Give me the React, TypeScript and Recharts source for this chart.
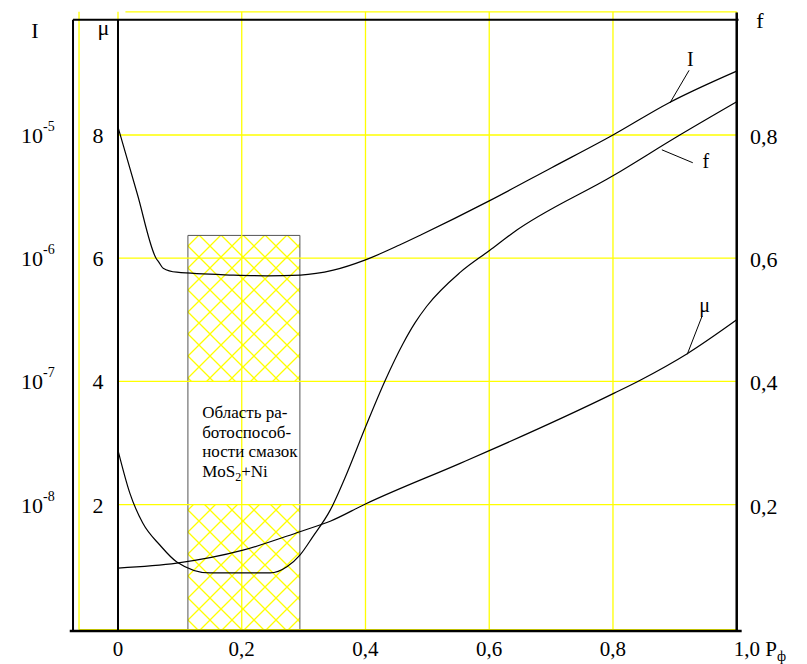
import React from 'react';
import {
  LineChart,
  Line,
  XAxis,
  YAxis,
  ReferenceLine,
  ReferenceArea,
  ReferenceDot,
} from 'recharts';

const SERIF = 'Liberation Serif, Times New Roman, DejaVu Serif, serif';
const YELLOW = '#ffff00';
const txt = { fontFamily: SERIF };

// axis ticks
const pTicks = [0, 0.2, 0.4, 0.6, 0.8, 1.0];
const muTicks = [2, 4, 6, 8];
const fTicks = [0.2, 0.4, 0.6, 0.8];
const iTicks = [1e-8, 1e-7, 1e-6, 1e-5];

// wear intensity I (log scale) vs P_ф
const iP = [0, 0.031, 0.062, 0.066, 0.073, 0.095, 0.186, 0.24, 0.295, 0.348, 0.4, 0.455, 0.49, 0.6, 0.7, 0.8, 0.89, 1.0];
const iValues = [1.16e-5, 3.35e-6, 9.9e-7, 9.3e-7, 8.3e-7, 7.7e-7, 7.3e-7, 7.2e-7, 7.3e-7, 8.0e-7, 9.7e-7, 1.28e-6, 1.55e-6, 2.92e-6, 5.4e-6, 1.0e-5, 1.82e-5, 3.3e-5];

// friction coefficient f
const fP = [0, 0.019, 0.04, 0.068, 0.095, 0.149, 0.246, 0.273, 0.294, 0.315, 0.343, 0.37, 0.4, 0.432, 0.461, 0.48, 0.499, 0.553, 0.601, 0.638, 0.802, 0.908, 1.0];
const fValues = [0.288, 0.219, 0.17, 0.134, 0.107, 0.089, 0.089, 0.099, 0.118, 0.148, 0.191, 0.251, 0.326, 0.402, 0.462, 0.495, 0.522, 0.577, 0.613, 0.641, 0.735, 0.8, 0.854];

// μ
const muP = [0, 0.095, 0.202, 0.294, 0.343, 0.4, 0.553, 0.601, 0.802, 0.844, 0.92, 1.0];
const muValues = [0.97, 1.05, 1.26, 1.56, 1.73, 2.01, 2.67, 2.88, 3.81, 4.02, 4.45, 5.0];

// zone of workability of MoS2+Ni lubricants
const zoneFrom = 0.113;
const zoneTo = 0.294;
const zoneTop = 6.37;
const zoneLines = ['Область ра-', 'ботоспособ-', 'ности смазок'];

// curve callouts (in μ units): name, leader start, leader end, text centre
const calloutNames = ['I', 'f', 'μ'];
const calloutFrom = [[0.892, 8.52], [0.879, 7.76], [0.92, 4.44]];
const calloutTo = [[0.923, 9.05], [0.929, 7.55], [0.944, 5.06]];
const calloutText = [[0.925, 9.24], [0.95, 7.58], [0.948, 5.24]];

const iData = iP.map((p, k) => ({ p, v: iValues[k] }));
const fData = fP.map((p, k) => ({ p, v: fValues[k] }));
const muData = muP.map((p, k) => ({ p, v: muValues[k] }));

const X_DOMAIN: [number, number] = [-0.08, 1.015];
const MU_DOMAIN: [number, number] = [-0.07, 10.08];
const F_DOMAIN: [number, number] = [MU_DOMAIN[0] / 10, MU_DOMAIN[1] / 10];
const I_DOMAIN: [number, number] = [10 ** (MU_DOMAIN[0] / 2 - 9), 10 ** (MU_DOMAIN[1] / 2 - 9)];

const fmt = (v: number) => (v === 0 ? '0' : v.toFixed(1).replace('.', ','));

const XTick = ({ x, payload }: any) => {
  if (payload.value === 1) {
    return (
      <text x={x - 3} y={656} style={txt} fontSize={21} fill="#000">
        1,0 P<tspan dy={5} fontSize={14}>ф</tspan>
      </text>
    );
  }
  return (
    <text x={x} y={656} textAnchor="middle" style={txt} fontSize={21} fill="#000">
      {fmt(payload.value)}
    </text>
  );
};

const ITick = ({ y, payload }: any) => {
  const exp = Math.round(Math.log10(payload.value));
  return (
    <text x={21} y={y + 8} style={txt} fontSize={22} fill="#000">
      10<tspan dy={-12} fontSize={14}>{exp}</tspan>
    </text>
  );
};

const MuTick = ({ y, payload }: any) => (
  <text x={98} y={y + 8} textAnchor="middle" style={txt} fontSize={22} fill="#000">
    {payload.value}
  </text>
);

const FTick = ({ y, payload }: any) => (
  <text x={750} y={y + 9} style={txt} fontSize={22} fill="#000">
    {fmt(payload.value)}
  </text>
);

const AxisTitle = (text: string, x: number, dy: number) => (props: any) => {
  const vb = props.viewBox || { y: 0 };
  return (
    <text x={x} y={vb.y + dy} textAnchor="middle" style={txt} fontSize={22} fill="#000">
      {text}
    </text>
  );
};

const App = () => {
  const yellowSeg = (x1: number, y1: number, x2: number, y2: number, key: string) => (
    <ReferenceLine
      key={key}
      yAxisId="mu"
      segment={[{ x: x1, y: y1 }, { x: x2, y: y2 }]}
      stroke={YELLOW}
      strokeWidth={1.3}
    />
  );
  const blackSeg = (x1: number, y1: number, x2: number, y2: number, w: number, key: string) => (
    <ReferenceLine
      key={key}
      yAxisId="mu"
      segment={[{ x: x1, y: y1 }, { x: x2, y: y2 }]}
      stroke="#000"
      strokeWidth={w}
    />
  );

  return (
    <div style={{ position: 'absolute', left: 0, top: 0, background: '#fff', fontFamily: SERIF }}>
      <LineChart width={807} height={664} margin={{ top: 6.9, right: 0, bottom: 0, left: 0 }}>
        <defs>
          <pattern id="hatch" x={188} y={246} width={22} height={22} patternUnits="userSpaceOnUse">
            <path d="M0,0 L22,22 M22,0 L0,22" stroke={YELLOW} strokeWidth={1.3} />
          </pattern>
        </defs>
        <XAxis
          dataKey="p"
          type="number"
          domain={X_DOMAIN}
          allowDataOverflow
          ticks={pTicks}
          interval={0}
          axisLine={false}
          tickLine={false}
          height={31.9}
          tick={(p: any) => <XTick {...p} />}
        />
        <YAxis
          yAxisId="I"
          scale="log"
          domain={I_DOMAIN}
          allowDataOverflow
          ticks={iTicks}
          interval={0}
          width={67.5}
          axisLine={false}
          tickLine={false}
          tick={(p: any) => <ITick {...p} />}
          label={AxisTitle('I', 35, 31)}
        />
        <YAxis
          yAxisId="mu"
          type="number"
          domain={MU_DOMAIN}
          allowDataOverflow
          ticks={muTicks}
          interval={0}
          width={1}
          axisLine={false}
          tickLine={false}
          tick={(p: any) => <MuTick {...p} />}
          label={AxisTitle('μ', 103.5, 28)}
        />
        <YAxis
          yAxisId="f"
          orientation="right"
          type="number"
          domain={F_DOMAIN}
          allowDataOverflow
          ticks={fTicks}
          interval={0}
          width={61}
          axisLine={false}
          tickLine={false}
          tick={(p: any) => <FTick {...p} />}
          label={AxisTitle('f', 760, 21)}
        />

        {/* yellow grid */}
        {pTicks.map((p) => yellowSeg(p, -0.03, p, 10, `gx${p}`))}
        {yellowSeg(-0.063, -0.03, -0.063, 10, 'gl')}
        {muTicks.map((m) => yellowSeg(0, m, 1, m, `gy${m}`))}
        {yellowSeg(0.012, 10, 1, 10, 'gt')}
        {yellowSeg(-0.063, -0.03, 1, -0.03, 'gb')}

        {/* MoS2+Ni zone */}
        <ReferenceArea yAxisId="mu" x1={zoneFrom} x2={zoneTo} y1={4} y2={zoneTop} fill="url(#hatch)" fillOpacity={1} stroke="none" />
        <ReferenceArea yAxisId="mu" x1={zoneFrom} x2={zoneTo} y1={-0.036} y2={2} fill="url(#hatch)" fillOpacity={1} stroke="none" />
        <ReferenceArea yAxisId="mu" x1={zoneFrom} x2={zoneTo} y1={-0.036} y2={zoneTop} fill="none" stroke="#555" strokeWidth={1} />
        <ReferenceDot
          yAxisId="mu"
          x={0.136}
          y={3.62}
          r={0}
          shape={(p: any) => (
            <text x={p.cx} y={p.cy} style={txt} fontSize={17} fill="#000">
              {zoneLines.map((t, k) => (
                <tspan key={k} x={p.cx} y={p.cy + 13 + k * 19.7}>{t}</tspan>
              ))}
              <tspan x={p.cx} y={p.cy + 72}>MoS</tspan>
              <tspan dy={4} fontSize={12}>2</tspan>
              <tspan dy={-4}>+Ni</tspan>
            </text>
          )}
        />

        <Line yAxisId="I" data={iData} dataKey="v" type="monotone" stroke="#000" strokeWidth={1.2} dot={false} isAnimationActive={false} />
        <Line yAxisId="f" data={fData} dataKey="v" type="monotone" stroke="#000" strokeWidth={1.2} dot={false} isAnimationActive={false} />
        <Line yAxisId="mu" data={muData} dataKey="v" type="monotone" stroke="#000" strokeWidth={1.2} dot={false} isAnimationActive={false} />

        {/* black frame and axes */}
        {blackSeg(-0.0727, -0.052, -0.0727, 9.87, 2, 'bl')}
        {blackSeg(-0.0727, 9.87, 1.003, 9.87, 2, 'bt')}
        {blackSeg(0, -0.052, 0, 9.87, 2, 'bmu')}
        {blackSeg(1, -0.052, 1, 9.99, 2.5, 'br')}
        {blackSeg(-0.078, -0.052, 1.008, -0.052, 2.5, 'bb')}

        {/* curve callouts */}
        {calloutNames.map((name, k) =>
          blackSeg(calloutFrom[k][0], calloutFrom[k][1], calloutTo[k][0], calloutTo[k][1], 1, `lead${k}`)
        )}
        {calloutNames.map((name, k) => (
          <ReferenceDot
            key={`ct${k}`}
            yAxisId="mu"
            x={calloutText[k][0]}
            y={calloutText[k][1]}
            r={0}
            shape={(p: any) => (
              <text x={p.cx} y={p.cy + 7} textAnchor="middle" style={txt} fontSize={20} fill="#000">
                {name}
              </text>
            )}
          />
        ))}
      </LineChart>
    </div>
  );
};

export default App;
